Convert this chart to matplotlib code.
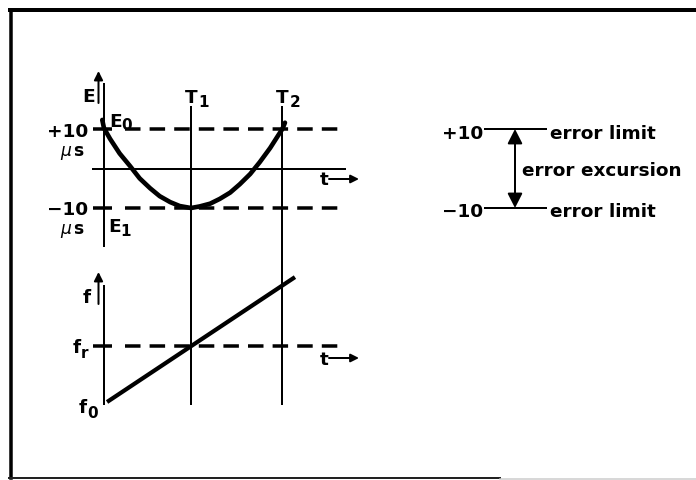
import matplotlib
matplotlib.use("Agg")
import matplotlib.pyplot as plt
from matplotlib.lines import Line2D

# ---------------- data ----------------
# error E (microseconds) versus time t (units: T1 = 1)
t_curve = [-0.02, 0.0, 0.07, 0.18, 0.30, 0.41, 0.53, 0.64, 0.76, 0.87, 1.0,
           1.10, 1.22, 1.33, 1.45, 1.56, 1.68, 1.79, 1.91, 2.0, 2.05, 2.08]
E_curve = [12.3, 10.2, 7.5, 3.8, 0.6, -2.5, -5.0, -7.0, -8.5, -9.5, -10.0,
           -9.6, -8.9, -7.7, -6.1, -4.0, -1.4, 1.6, 5.2, 8.3, 10.0, 11.6]
T_marks = [1.0, 2.05]
T_subs = ["1", "2"]
E_limits = [10.0, -10.0]
E_limit_labels = ["+10", "\u221210"]
E_level_subs = ["0", "1"]

# frequency f versus time (f0 = 0, fr = 1)
t_freq = [0.035, 2.195]
f_freq = [0.0, 2.23]
f_r = 1.0
f_0 = 0.0

limit_texts = ["error limit", "error limit"]
excursion_text = "error excursion"

# ---------------- figure / calibration ----------------
W, H = 696, 481
fig = plt.figure(figsize=(W / 100, H / 100), dpi=100)
fig.patch.set_facecolor("white")

X0, XS = 104.0, 87.0      # pixel of t=0, pixels per t unit
EY0, ES = 169.5, 3.95     # pixel of E=0, pixels per microsecond
FY0, FS = 403.0, 56.0     # pixel of f0, pixels per (fr - f0)


def tx(px):
    return (px - X0) / XS


def Ey(py):
    return (EY0 - py) / ES


def fy(py):
    return (FY0 - py) / FS


def pt(px):
    return px * 0.72


ax_e = fig.add_axes([0, 0, 1, 1])
ax_e.set_xlim(tx(0), tx(W))
ax_e.set_ylim(Ey(H), Ey(0))
ax_f = fig.add_axes([0, 0, 1, 1])
ax_f.set_xlim(tx(0), tx(W))
ax_f.set_ylim(fy(H), fy(0))
for a in (ax_e, ax_f):
    a.axis("off")
    a.patch.set_alpha(0)

K = "black"
FONT = "DejaVu Sans"
FS_MAIN = 13.3
FS_SUB = 11.0
FS_UNIT = 12.3


def label(ax, conv, px, py, s, ha="left", size=FS_MAIN, style="normal", weight="bold"):
    ax.text(tx(px), conv(py), s, ha=ha, va="baseline", fontsize=size,
            fontfamily=FONT, fontweight=weight, fontstyle=style, color=K)


def arrow(ax, conv, p0, p1, style="-|>", lw=2.0, ms=14):
    ax.annotate("", xy=(tx(p1[0]), conv(p1[1])), xytext=(tx(p0[0]), conv(p0[1])),
                arrowprops=dict(arrowstyle=style, lw=pt(lw), color=K,
                                mutation_scale=ms, shrinkA=0, shrinkB=0))


def dashed_level(ax, y):
    lw = pt(3.5)
    ax.plot([tx(93), tx(112)], [y, y], color=K, lw=lw, solid_capstyle="butt")
    ax.plot([tx(125), tx(338)], [y, y], color=K, lw=lw,
            linestyle=(0, (pt(15.5) / lw, pt(9.1) / lw)), dash_capstyle="butt")


# ---------------- frame ----------------
fig.add_artist(Line2D([10 / W, 1.0], [1 - 11 / H, 1 - 11 / H], color=K, lw=pt(4)))
fig.add_artist(Line2D([10.5 / W, 10.5 / W], [1 - 12 / H, 1 - 479 / H], color=K, lw=pt(3.5)))
fig.add_artist(Line2D([9 / W, 500 / W], [1 - 478.5 / H, 1 - 478.5 / H], color="#222222", lw=pt(2)))
fig.add_artist(Line2D([500 / W, 1.0], [1 - 479.5 / H, 1 - 479.5 / H], color="#cccccc", lw=pt(1.5)))

# ---------------- top panel: error ----------------
# vertical E axis and its arrow
ax_e.plot([0, 0], [Ey(85), Ey(247)], color=K, lw=pt(2))
arrow(ax_e, Ey, (98.5, 104), (98.5, 72), ms=13)
label(ax_e, Ey, 82, 102, "E")

# error limits (dashed) and zero line
for lev in E_limits:
    dashed_level(ax_e, lev)
ax_e.plot([tx(93), tx(345)], [0, 0], color=K, lw=pt(2))
label(ax_e, Ey, 320, 185, "t")
arrow(ax_e, Ey, (329, 180), (359, 180), ms=12)

# T marks (vertical lines across both panels)
for tm, sub in zip(T_marks, T_subs):
    ax_e.plot([tm, tm], [Ey(108), Ey(405)], color=K, lw=pt(2))
    px = X0 + tm * XS
    label(ax_e, Ey, px - 6.5, 103, "T")
    label(ax_e, Ey, px + 7.5, 107, sub, size=FS_SUB)

# error curve
ax_e.plot(t_curve, E_curve, color=K, lw=pt(4.6), solid_capstyle="round")

# level labels
label(ax_e, Ey, 88, 137, E_limit_labels[0], ha="right")
label(ax_e, Ey, 88, 215, E_limit_labels[1], ha="right")
for yb in (156, 234):
    label(ax_e, Ey, 60, yb, "\u03bc", style="italic", weight="normal", size=FS_UNIT)
    label(ax_e, Ey, 73, yb, "s", size=FS_UNIT)
label(ax_e, Ey, 109, 127, "E")
label(ax_e, Ey, 121, 130, E_level_subs[0], size=FS_SUB)
label(ax_e, Ey, 108, 232, "E")
label(ax_e, Ey, 120, 236, E_level_subs[1], size=FS_SUB)

# ---------------- right panel: error limits legend ----------------
for lev, lab, txt, yb in zip(E_limits, E_limit_labels, limit_texts, (139, 217)):
    ax_e.plot([tx(485), tx(546)], [lev, lev], color=K, lw=pt(2))
    label(ax_e, Ey, 483, yb, lab, ha="right")
    label(ax_e, Ey, 550, yb, txt)
ax_e.annotate("", xy=(tx(515), E_limits[0]), xytext=(tx(515), E_limits[1]),
              arrowprops=dict(arrowstyle="<|-|>,head_length=0.55,head_width=0.28",
                              lw=pt(2), color=K, mutation_scale=16,
                              shrinkA=0, shrinkB=0))
label(ax_e, Ey, 522, 176, excursion_text)

# ---------------- bottom panel: frequency ----------------
ax_f.plot([0, 0], [fy(287), fy(405)], color=K, lw=pt(2))
arrow(ax_f, fy, (98.5, 305), (98.5, 273), ms=13)
label(ax_f, fy, 83, 303, "f")

dashed_level(ax_f, f_r)
label(ax_f, fy, 320, 365, "t")
arrow(ax_f, fy, (329, 359), (359, 359), ms=12)

ax_f.plot(t_freq, f_freq, color=K, lw=pt(4.2), solid_capstyle="butt")

label(ax_f, fy, 73, 353, "f")
label(ax_f, fy, 81, 358, "r", size=FS_SUB)
label(ax_f, fy, 79, 413, "f")
label(ax_f, fy, 87, 418, "0", size=FS_SUB)

fig.savefig("out.png", dpi=100, facecolor="white")
